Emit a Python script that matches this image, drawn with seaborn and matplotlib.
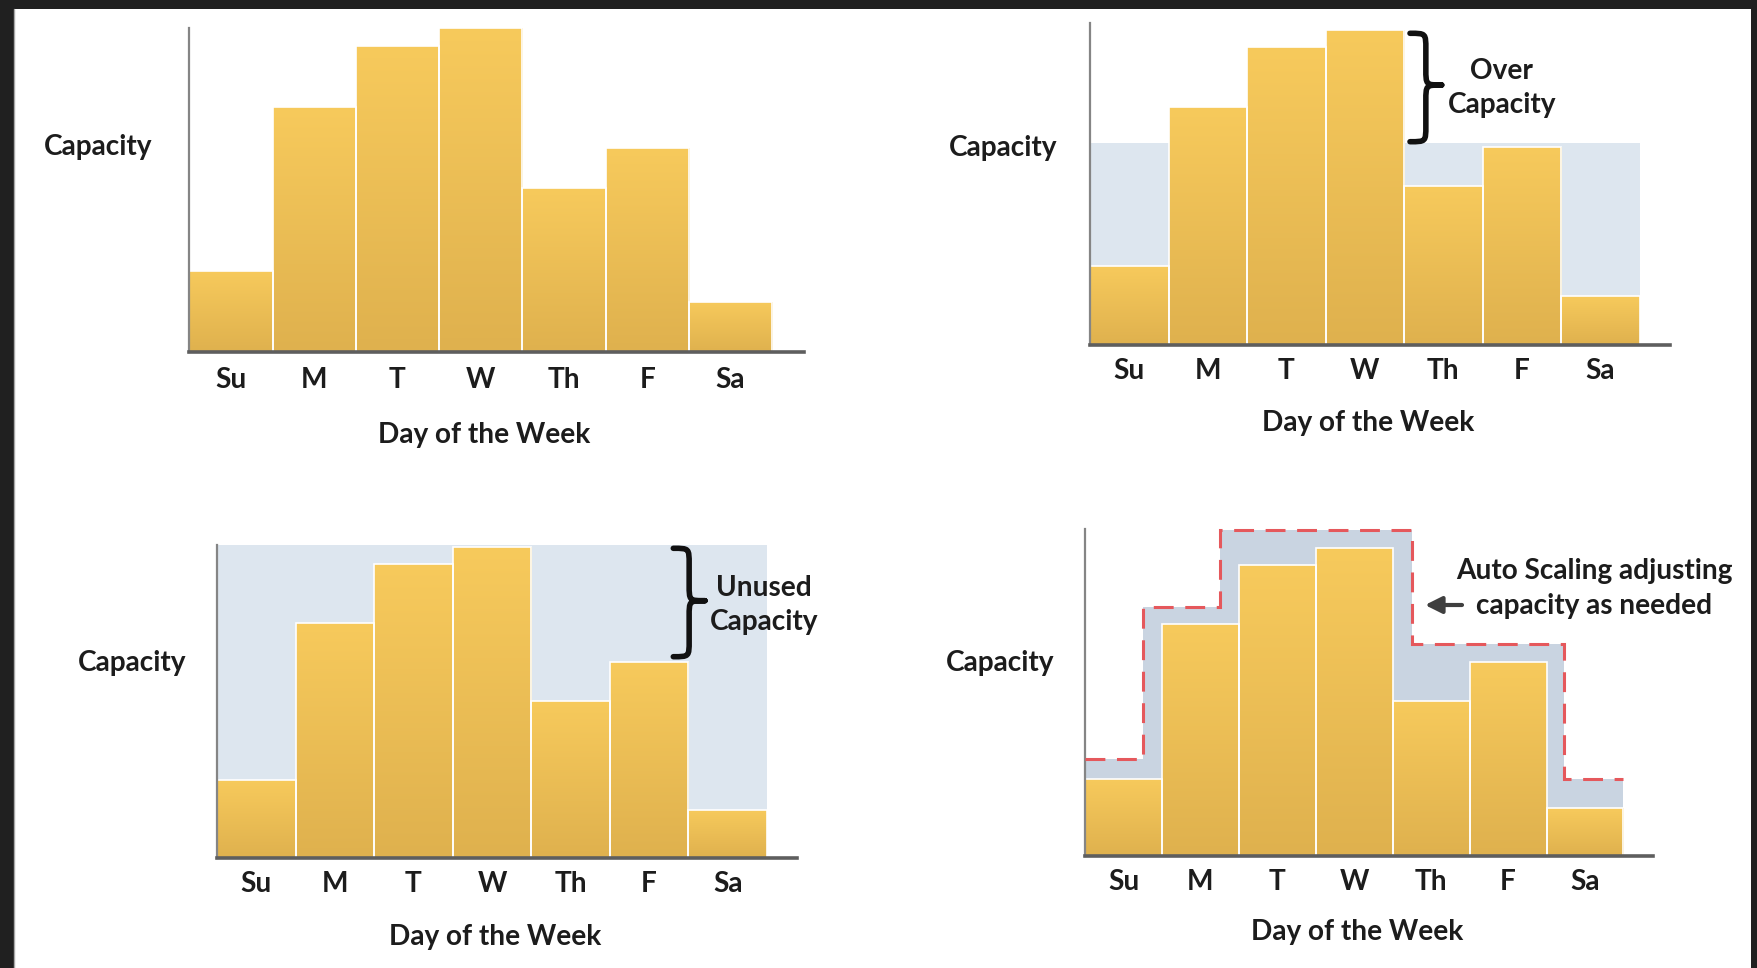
import numpy as np
import matplotlib
matplotlib.use("Agg")
import matplotlib.pyplot as plt
import matplotlib.transforms as mtransforms
import pandas as pd
import seaborn as sns
from matplotlib.path import Path
from matplotlib.patches import PathPatch, Rectangle
from matplotlib.colors import LinearSegmentedColormap

# ---- data -----------------------------------------------------------------
days = ["Su", "M", "T", "W", "Th", "F", "Sa"]
demand = [25, 75.5, 94.5, 100, 50.5, 63, 15.5]

fixed_capacity = 64          # constant capacity sized for an average day
peak_capacity = 100.5        # constant capacity sized for the busiest day

# auto-scaled capacity: step levels and the x-edges between them
scaled_levels = [31.4, 81, 106, 68.9, 24.9]
scaled_edges = [-0.5, 0.25, 1.25, 3.75, 5.73, 6.5]

df = pd.DataFrame({"day": days, "demand": demand})

# ---- styling --------------------------------------------------------------
W, H = 1758, 968
sns.set_theme(style="white")
plt.rcParams["font.family"] = ["Lato", "DejaVu Sans"]
plt.rcParams["font.weight"] = "bold"
plt.rcParams["axes.labelweight"] = "bold"
FS = 20.2
TEXT = "#1c1c1c"
BAR_LO, BAR_HI = "#dfb14e", "#f7ca5c"
BAND = "#dde6ef"
SCALED = "#c9d4e1"
DASH = "#e5585c"

bar_cmap = LinearSegmentedColormap.from_list("bar", [BAR_LO, BAR_HI])
grad = np.linspace(0, 1, 256).reshape(-1, 1)

fig = plt.figure(figsize=(W / 100, H / 100), dpi=100, facecolor="#202020")

# white sheet with a dark frame
bg = fig.add_axes([0, 0, 1, 1], zorder=0)
bg.set_xlim(0, W)
bg.set_ylim(H, 0)
bg.axis("off")
bg.add_patch(Rectangle((14, 9), 1737, 959, facecolor="white", edgecolor="none"))
bg.plot([14.5, 14.5], [9, H], color="#a8a8a8", lw=1)


def make_axes(left, right, base, top):
    return fig.add_axes([left / W, (H - base) / H, (right - left) / W, (base - top) / H],
                        zorder=1)


def draw_bars(ax):
    sns.barplot(data=df, x="day", y="demand", order=days, color=BAR_HI, width=1.0,
                edgecolor="white", linewidth=1.2, ax=ax, zorder=2)
    for bar in ax.containers[0]:
        x0, w, h = bar.get_x(), bar.get_width(), bar.get_height()
        im = ax.imshow(grad, extent=(x0, x0 + w, 0, h), origin="lower", cmap=bar_cmap,
                       aspect="auto", zorder=1.9, interpolation="bilinear")
        im.set_clip_path(bar)
        bar.set_facecolor("none")


def style(ax, ymax, ylab_xy, xlab_y, pad=9.5):
    ax.set_facecolor("none")
    sns.despine(ax=ax)
    ax.spines["left"].set_color("#858585")
    ax.spines["left"].set_linewidth(1.6)
    ax.spines["bottom"].set_color("#5e5e5e")
    ax.spines["bottom"].set_linewidth(2.6)
    ax.set_xlim(-0.5, 6.88)
    ax.set_ylim(0, ymax)
    ax.set_yticks([])
    ax.tick_params(axis="x", length=0, pad=pad, labelsize=FS, labelcolor=TEXT)
    ax.set_ylabel("Capacity", rotation=0, fontsize=FS, fontweight="bold", color=TEXT,
                  ha="center", va="center")
    ax.yaxis.set_label_coords(*ylab_xy)
    ax.set_xlabel("Day of the Week", fontsize=FS, fontweight="bold", color=TEXT, va="center")
    ax.xaxis.set_label_coords(3.04, xlab_y,
                              transform=mtransforms.blended_transform_factory(ax.transData, ax.transAxes))


# panel 1: demand only
ax1 = make_axes(189.4, 803.7, 352, 27.7)
draw_bars(ax1)
style(ax1, 100, (-0.148, 0.633), -0.256, pad=11)

# panel 2: fixed capacity below peak demand
ax2 = make_axes(1090, 1669.5, 345, 22.7)
ax2.fill_between([-0.5, 6.5], 0, fixed_capacity, color=BAND, lw=0, zorder=0.5)
draw_bars(ax2)
style(ax2, 102.3, (-0.150, 0.611), -0.242)

# panel 3: fixed capacity at peak demand
ax3 = make_axes(217, 796.8, 858.3, 545)
ax3.fill_between([-0.5, 6.5], 0, peak_capacity, color=BAND, lw=0, zorder=0.5)
draw_bars(ax3)
style(ax3, peak_capacity, (-0.1466, 0.624), -0.250)

# panel 4: auto-scaled capacity following demand
ax4 = make_axes(1085, 1652.7, 856, 529.3)
ax4.stairs(scaled_levels, scaled_edges, baseline=0, fill=True, color=SCALED, lw=0, zorder=0.5)
draw_bars(ax4)
ax4.stairs(scaled_levels, scaled_edges, baseline=None, color=DASH, lw=2.2,
           linestyle=(0, (6.5, 3.8)), zorder=3, clip_on=False)
style(ax4, 106.2, (-0.149, 0.592), -0.232)

# ---- annotations ------------------------------------------------------------
ov = fig.add_axes([0, 0, 1, 1], zorder=10)
ov.set_xlim(0, W)
ov.set_ylim(H, 0)
ov.axis("off")
ov.set_facecolor("none")


def brace(x0, x1, ytop, ybot, ymid):
    xm = (x0 + x1) / 2
    r = (x1 - x0) * 0.5
    verts = [(x0, ytop), (xm, ytop), (xm, ytop), (xm, ytop + r),
             (xm, ymid - r),
             (xm, ymid), (xm, ymid), (x1, ymid),
             (xm, ymid), (xm, ymid), (xm, ymid + r),
             (xm, ybot - r),
             (xm, ybot), (xm, ybot), (x0, ybot)]
    codes = [Path.MOVETO, Path.CURVE4, Path.CURVE4, Path.CURVE4,
             Path.LINETO,
             Path.CURVE4, Path.CURVE4, Path.CURVE4,
             Path.CURVE4, Path.CURVE4, Path.CURVE4,
             Path.LINETO,
             Path.CURVE4, Path.CURVE4, Path.CURVE4]
    ov.add_patch(PathPatch(Path(verts, codes), facecolor="none", edgecolor="#111111",
                           lw=4.0, capstyle="round", joinstyle="round"))


LS = 1.42
brace(1410, 1441.7, 33.3, 141.7, 85)
ov.text(1501.7, 88, "Over\nCapacity", ha="center", va="center", fontsize=FS,
        color=TEXT, linespacing=LS, multialignment="center")

brace(673.3, 705, 548.3, 656.7, 600.7)
ov.text(764, 605, "Unused\nCapacity", ha="center", va="center", fontsize=FS,
        color=TEXT, linespacing=LS, multialignment="center")

ov.text(1594, 588.3, "Auto Scaling adjusting\ncapacity as needed", ha="center",
        va="center", fontsize=FS, color=TEXT, linespacing=LS, multialignment="center")
ov.annotate("", xy=(1425, 605), xytext=(1462, 605),
            arrowprops=dict(arrowstyle="-|>,head_length=0.5,head_width=0.25",
                            color="#3f3f3f", lw=3.0, shrinkA=0, shrinkB=0,
                            mutation_scale=20))

fig.savefig("out.png", dpi=100, facecolor=fig.get_facecolor())
